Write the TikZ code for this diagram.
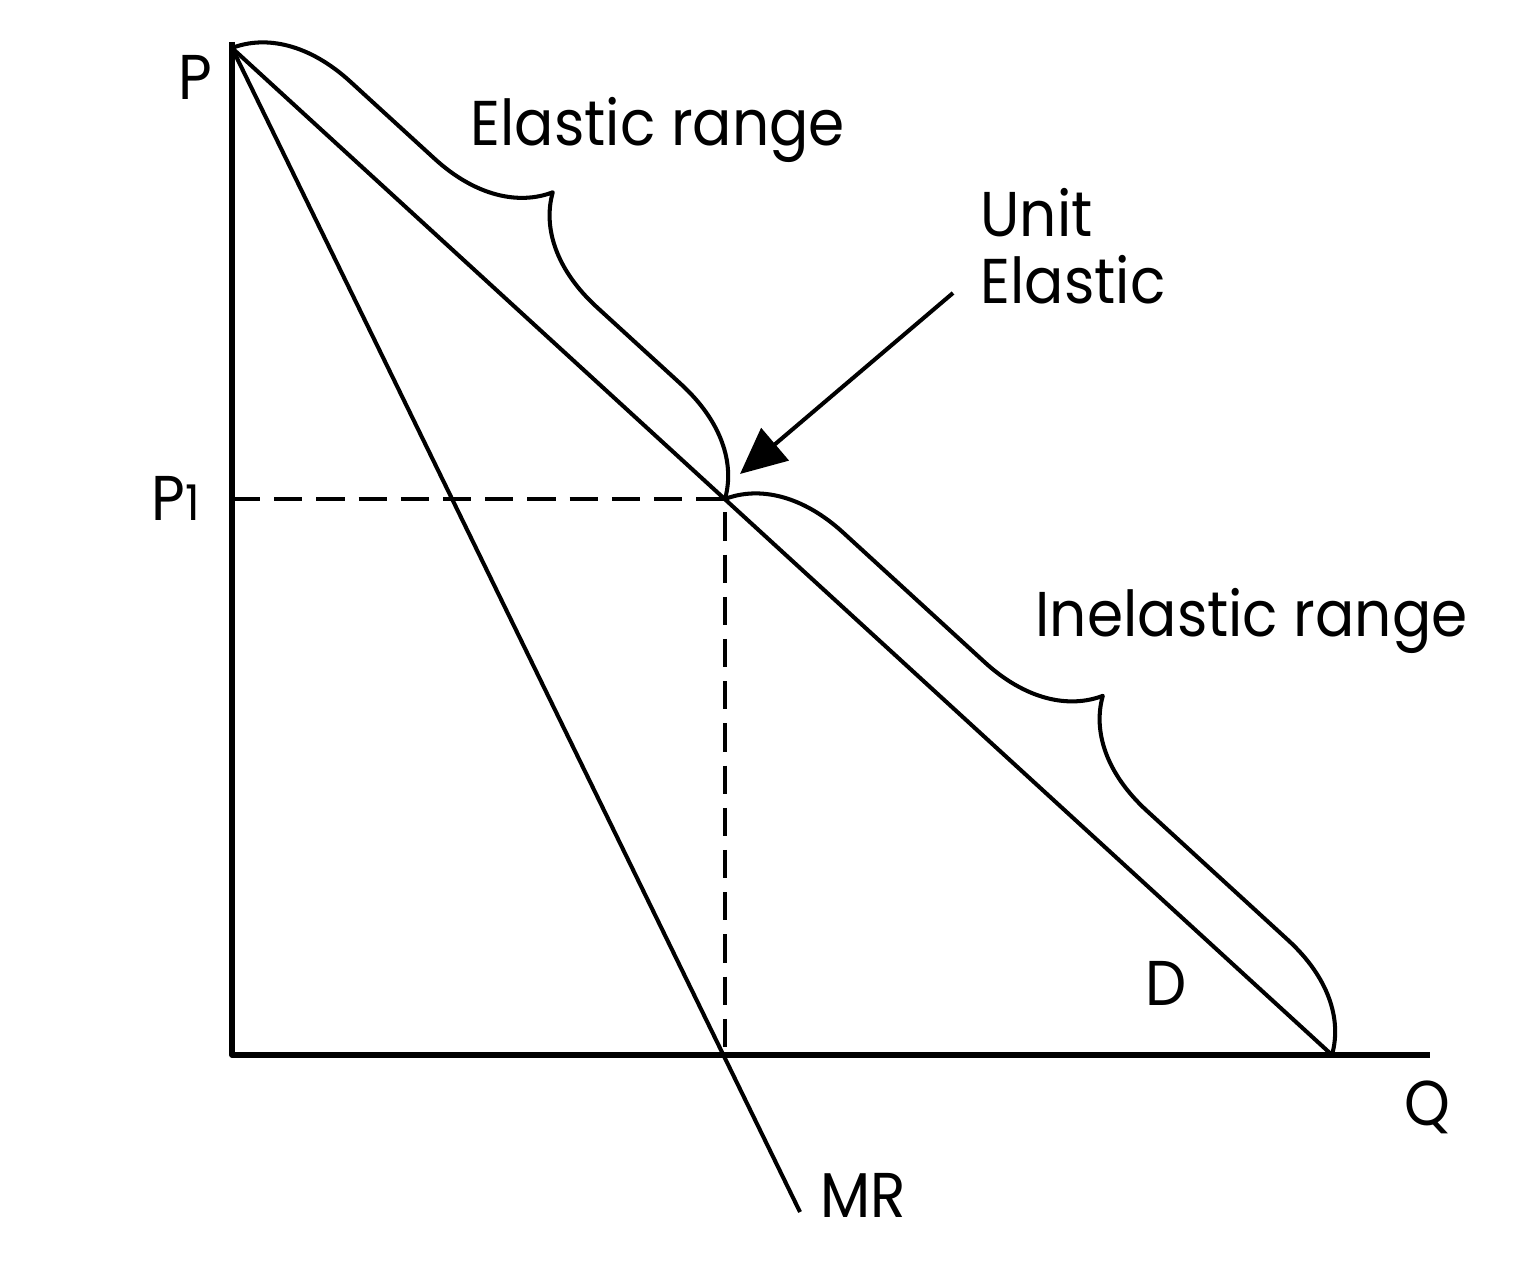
\documentclass[tikz,border=0pt]{standalone}
\usepackage{fontspec}
\setmainfont{Poppins}
\usetikzlibrary{arrows.meta, decorations.pathreplacing, positioning}

\begin{document}
\begin{tikzpicture}[x=0.01cm, y=-0.01cm, line join=round,
    curve/.style={line width=1.15pt},
    axis/.style={line width=1.5pt},
    guide/.style={line width=1.25pt, dash pattern=on 8pt off 4pt},
    span/.style={line width=1.15pt, decorate, decoration={brace, amplitude=1.1cm}},
    lbl/.style={font=\fontsize{18}{19}\selectfont, inner sep=0pt, xscale=0.92}]

    \useasboundingbox (0,0) rectangle (1528,1268);

    % key points
    \coordinate (P) at (232,48);
    \coordinate (U) at (725,499);
    \coordinate (Uy) at (232,499);
    \coordinate (Ux) at (725,1055);
    \coordinate (Dend) at (1332,1055);
    \coordinate (MRend) at (800,1212);
    \coordinate (ue) at (953,293);
    \coordinate (ut) at (740,474);

    % axes
    \draw[axis] (232,42) |- (1430,1055);

    % curves
    \draw[curve] (P) -- (Dend);
    \draw[curve] (P) -- (MRend);
    \draw[guide] (Uy) -- (U) -- (Ux);

    % braces
    \draw[span] (P) -- (U);
    \draw[span] (U) -- (Dend);

    % labels
    \node[lbl, anchor=base] (pl) at (195,100) {P};
    \node[lbl, anchor=base] (p1) at (176,521) {P{\fontsize{14}{14}\selectfont 1}};
    \node[lbl, anchor=base west] (elastic) at (470,146) {Elastic range};
    \node[lbl, anchor=north west, align=left] (unit) at (980,188) {Unit\\Elastic};
    \node[lbl, anchor=base west] (inelastic) at (1035,637) {Inelastic range};
    \node[lbl, anchor=base] (dl) at (1166,1005) {D};
    \node[lbl, anchor=base] (ql) at (1427,1125) {Q};
    \node[lbl, anchor=base west] (mr) at (820,1217) {MR};

    \draw[curve, -{Triangle[length=0.46cm, width=0.42cm]}] (ue) -- (ut);

\end{tikzpicture}
\end{document}
